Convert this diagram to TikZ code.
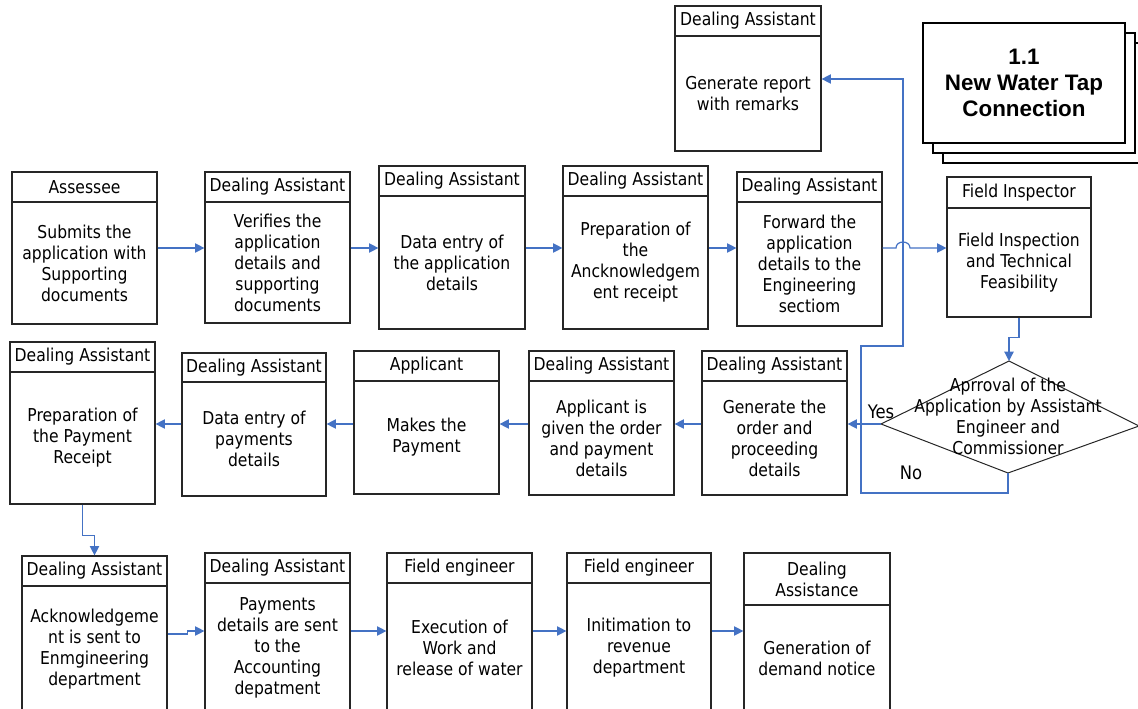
\documentclass[tikz,border=0pt]{standalone}
\usepackage{fontspec}
\setmainfont{DejaVu Sans}[FakeStretch=0.88]
\newfontfamily\titlefont{Liberation Sans}
\usetikzlibrary{arrows.meta}
\definecolor{flowblue}{HTML}{4472C4}
\newcommand\boxfont{\fontsize{13.3pt}{15.75pt}\selectfont}
\tikzset{
  box/.style={draw=black!85, line width=0.9pt, fill=white, inner sep=0pt, align=center, font=\boxfont},
  titlebox/.style={draw=black, line width=1.4pt, fill=white, inner sep=0pt, align=center},
  flow/.style={draw=flowblue, line width=0.9pt, -{Triangle[length=7pt,width=7pt]}},
  answer/.style={font=\fontsize{14pt}{16pt}\selectfont, inner sep=0pt},
}
% rectangle node spanning the corners (#2,#3) and (#4,#5)
\newcommand\spanbox[7]{%
  \node[#1, minimum width={(#4-#2)*0.75pt}, minimum height={(#5-#3)*0.75pt}]
    (#6) at ({(#2+#4)/2},{(#3+#5)/2}) {#7};
}
% role header box on top of an activity box
% #1 name, #2 left, #3 top, #4 header bottom, #5 right, #6 bottom, #7 role, #8 activity
\newcommand\lane[8]{%
  \spanbox{box}{#2}{#3}{#5}{#4}{#1h}{#7}
  \spanbox{box}{#2}{#4}{#5}{#6}{#1}{#8}
}
\begin{document}
\begin{tikzpicture}[x=0.75pt, y=-0.75pt]
\useasboundingbox (0,0) rectangle (1138,709);

% heights of the row connectors
\coordinate (r0) at (0,79);
\coordinate (r1) at (0,248);
\coordinate (r2) at (0,424);
\coordinate (r3) at (0,631);
\coordinate (r3a) at (0,634);

% title card stack
\spanbox{titlebox}{943}{43}{1152}{163}{t3}{}
\spanbox{titlebox}{933}{33}{1135}{153}{t2}{}
\spanbox{titlebox, font=\titlefont\fontsize{16.8pt}{19.5pt}\selectfont\bfseries}{923}{23}{1125}{143}{t1}{1.1\\New Water Tap\\Connection}

% first row
\lane{ass}{12}{172}{202}{157}{324}{Assessee}{Submits the\\application with\\Supporting\\documents}
\lane{ver}{205}{172}{202}{350}{323}{Dealing Assistant}{Verifies the\\application\\details and\\supporting\\documents}
\lane{dat}{379}{166}{196}{525}{329}{Dealing Assistant}{Data entry of\\the application\\details}
\lane{pre}{563}{166}{196}{708}{329}{Dealing Assistant}{Preparation of\\the\\Ancknowledgem\\ent receipt}
\lane{fwd}{737}{172}{202}{882}{326}{Dealing Assistant}{Forward the\\application\\details to the\\Engineering\\sectiom}
\lane{fi}{947}{177}{208}{1091}{317}{Field Inspector}{Field Inspection\\and Technical\\Feasibility}
\lane{rep}{675}{6}{36}{821}{151}{Dealing Assistant}{Generate report\\with remarks}

% second row
\lane{rec}{10}{342}{372}{155}{504}{Dealing Assistant}{Preparation of\\the Payment\\Receipt}
\lane{pen}{182}{353}{382}{326}{496}{Dealing Assistant}{Data entry of\\payments\\details}
\lane{app}{354}{351}{381}{499}{494}{Applicant}{Makes the\\Payment}
\lane{giv}{529}{351}{381}{674}{495}{Dealing Assistant}{Applicant is\\given the order\\and payment\\details}
\lane{gen}{702}{351}{381}{847}{495}{Dealing Assistant}{Generate the\\order and\\proceeding\\details}

% third row
\lane{ack}{22}{556}{586}{167}{712}{Dealing Assistant}{Acknowledgeme\\nt is sent to\\Enmgineering\\department}
\lane{pay}{205}{553}{583}{350}{712}{Dealing Assistant}{Payments\\details are sent\\to the\\Accounting\\depatment}
\lane{exe}{387}{553}{583}{532}{712}{Field engineer}{Execution of\\Work and\\release of water}
\lane{ini}{567}{553}{583}{711}{712}{Field engineer}{Initimation to\\revenue\\department}
\lane{dem}{744}{553}{605}{890}{712}{Dealing\\Assistance}{Generation of\\demand notice}

% approval decision
\coordinate (dleft) at (881,424);
\coordinate (dtop) at (1009,361);
\coordinate (dright) at (1139,426);
\coordinate (dbot) at (1008,473);
\draw[black!85, line width=0.75pt] (dleft) -- (dtop) -- (dright) -- (dbot) -- cycle;
\node[align=center, font=\boxfont, inner sep=0pt] (dec) at (1008,416)
  {Aprroval of the\\Application by Assistant\\Engineer and\\Commissioner};
\node[answer] (yes) at (881,412) {Yes};
\node[answer] (no) at (911,473) {No};

% loop corners of the rejection path
\coordinate (nl) at (861,493);
\coordinate (vu) at (903,346);
\coordinate (hopL) at (896,248);
\coordinate (hopR) at (910,248);

% first row connectors
\draw[flow] (ass.east |- r1) -- (ver.west |- r1);
\draw[flow] (ver.east |- r1) -- (dat.west |- r1);
\draw[flow] (dat.east |- r1) -- (pre.west |- r1);
\draw[flow] (pre.east |- r1) -- (fwd.west |- r1);
\draw[flow] (fwd.east |- r1) -- (hopL) .. controls +(0,-8) and +(0,-8) .. (hopR) -- (fi.west |- r1);
\draw[flow] (fi.south) -- ++(0,20) -| (dtop);

% rejection goes back to the report
\draw[flow] (dbot) |- (nl) |- (vu) |- (rep.east |- r0);

% second row connectors
\draw[flow] (dleft) -- (gen.east |- dleft);
\draw[flow] (gen.west |- r2) -- (giv.east |- r2);
\draw[flow] (giv.west |- r2) -- (app.east |- r2);
\draw[flow] (app.west |- r2) -- (pen.east |- r2);
\draw[flow] (pen.west |- r2) -- (rec.east |- r2);

% down to the third row
\draw[flow] (rec.south) -- ++(0,31) -| (ackh.north);

% third row connectors
\draw[flow] (ack.east |- r3a) -- ++(20,0) |- (pay.west |- r3);
\draw[flow] (pay.east |- r3) -- (exe.west |- r3);
\draw[flow] (exe.east |- r3) -- (ini.west |- r3);
\draw[flow] (ini.east |- r3) -- (dem.west |- r3);
\end{tikzpicture}
\end{document}
